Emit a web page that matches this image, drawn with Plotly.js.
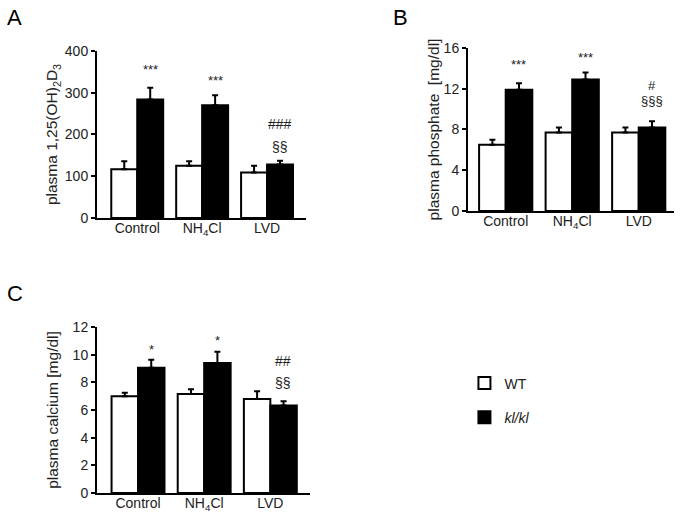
<!DOCTYPE html>
<html>
<head>
<meta charset="utf-8">
<script src="https://cdn.plot.ly/plotly-3.0.1.min.js"></script>
<style>html,body{margin:0;padding:0;background:#fff;}#chart{width:685px;height:514px;}</style>
</head>
<body>
<div id="chart"></div>
<script>
// ---- data ----
const categories = ["Control", "NH<sub>4</sub>Cl", "LVD"];
const seriesNames = ["WT", "<i>kl/kl</i>"];

// Panel A: plasma 1,25(OH)2D3
const vitD_WT = [117, 125, 109];
const vitD_WT_err = [19, 11, 16];
const vitD_KL = [284, 270, 128];
const vitD_KL_err = [28, 24, 9];
const vitD_sig = [["***"], ["***"], ["§§", "###"]];

// Panel B: plasma phosphate [mg/dl]
const phos_WT = [6.5, 7.7, 7.7];
const phos_WT_err = [0.5, 0.5, 0.5];
const phos_KL = [11.9, 12.9, 8.2];
const phos_KL_err = [0.65, 0.7, 0.6];
const phos_sig = [["***"], ["***"], ["§§§", "#"]];

// Panel C: plasma calcium [mg/dl]
const calc_WT = [7.0, 7.15, 6.8];
const calc_WT_err = [0.25, 0.35, 0.55];
const calc_KL = [9.05, 9.4, 6.33];
const calc_KL_err = [0.58, 0.82, 0.3];
const calc_sig = [["*"], ["*"], ["§§", "##"]];

// ---- build ----
const FONT = "Arial, 'Liberation Sans', sans-serif";
const panels = [
  {x:'x', y:'y', wt:vitD_WT, wte:vitD_WT_err, kl:vitD_KL, kle:vitD_KL_err, sig:vitD_sig, legend:true,
   shifts:[[18],[15],[14,37]], symSize:14},
  {x:'x2', y:'y2', wt:phos_WT, wte:phos_WT_err, kl:phos_KL, kle:phos_KL_err, sig:phos_sig, legend:false,
   shifts:[[19],[15],[21,36]], symSize:13},
  {x:'x3', y:'y3', wt:calc_WT, wte:calc_WT_err, kl:calc_KL, kle:calc_KL_err, sig:calc_sig, legend:false,
   shifts:[[10],[11],[18,40]], symSize:14}
];

const traces = [];
const annotations = [];
panels.forEach((p, i) => {
  traces.push({
    type:'bar', x:categories, y:p.wt, name:seriesNames[0], xaxis:p.x, yaxis:p.y,
    marker:{color:'#ffffff', line:{color:'#000', width:2}},
    error_y:{type:'data', array:p.wte, arrayminus:p.wte.map(()=>0), symmetric:false, color:'#000', thickness:2, width:3},
    showlegend:p.legend, legendgroup:'wt', hoverinfo:'skip'
  });
  traces.push({
    type:'bar', x:categories, y:p.kl, name:seriesNames[1], xaxis:p.x, yaxis:p.y,
    marker:{color:'#000000', line:{color:'#000', width:2}},
    error_y:{type:'data', array:p.kle, arrayminus:p.kle.map(()=>0), symmetric:false, color:'#000', thickness:2, width:3},
    showlegend:p.legend, legendgroup:'kl', hoverinfo:'skip'
  });
  p.sig.forEach((labels, c) => {
    labels.forEach((lab, k) => {
      const isStar = lab.indexOf('*') >= 0;
      annotations.push({
        xref:p.x, yref:p.y, x:categories[c], xshift:13, y:p.kl[c] + p.kle[c],
        text:lab, showarrow:false, yanchor:'middle',
        yshift:p.shifts[c][k],
        font:{family:FONT, size:isStar ? 13 : p.symSize, color:'#222'}
      });
    });
  });
});

// panel letters
[["A", 0.008, 0.995], ["B", 0.571, 0.995], ["C", 0.008, 0.458]].forEach(l => {
  annotations.push({xref:'paper', yref:'paper', x:l[1], y:l[2], xanchor:'left', yanchor:'top',
    text:l[0], showarrow:false, font:{family:FONT, size:22, color:'#000'}});
});

function yax(domain, range, dtick, title, anchor, standoff) {
  return {domain:domain, range:range, dtick:dtick, tick0:0, anchor:anchor,
    showline:true, linecolor:'#000', linewidth:2, ticks:'outside', ticklen:4, tickwidth:2, tickcolor:'#000',
    showgrid:false, zeroline:false, tickfont:{family:FONT, size:14, color:'#222'},
    title:{text:title, font:{family:FONT, size:15.5, color:'#222'}, standoff:standoff}, fixedrange:true};
}
function xax(domain, range, anchor) {
  return {domain:domain, range:range, anchor:anchor, type:'category',
    showline:true, linecolor:'#000', linewidth:2, ticks:'', showgrid:false, zeroline:false,
    ticklabelstandoff:-4,
    tickfont:{family:FONT, size:14, color:'#222'}, fixedrange:true};
}

const layout = {
  width:685, height:514, margin:{l:0, r:0, t:0, b:0},
  paper_bgcolor:'#fff', plot_bgcolor:'#fff',
  barmode:'group', bargap:0.2, bargroupgap:0,
  showlegend:true,
  legend:{x:0.678, y:0.285, xanchor:'left', yanchor:'top', traceorder:'grouped', tracegroupgap:13,
    font:{family:FONT, size:14, color:'#222'}, bgcolor:'rgba(0,0,0,0)'},
  xaxis:xax([0.1416, 0.4467], [-0.62, 2.6], 'y'),
  yaxis:yax([0.5759, 0.9008], [0, 400], 100, 'plasma 1,25(OH)<sub>2</sub>D<sub>3</sub>', 'x', 3),
  xaxis2:xax([0.6832, 0.9839], [-0.567, 2.53], 'y2'),
  yaxis2:yax([0.5895, 0.9066], [0, 16], 4, 'plasma phosphate  [mg/dl]', 'x2', 0),
  xaxis3:xax([0.1416, 0.4526], [-0.62, 2.6], 'y3'),
  yaxis3:yax([0.0409, 0.3638], [0, 12], 2, 'plasma calcium [mg/dl]', 'x3', 10),
  annotations:annotations
};

Plotly.newPlot('chart', traces, layout, {staticPlot:true, displayModeBar:false});
</script>
</body>
</html>
